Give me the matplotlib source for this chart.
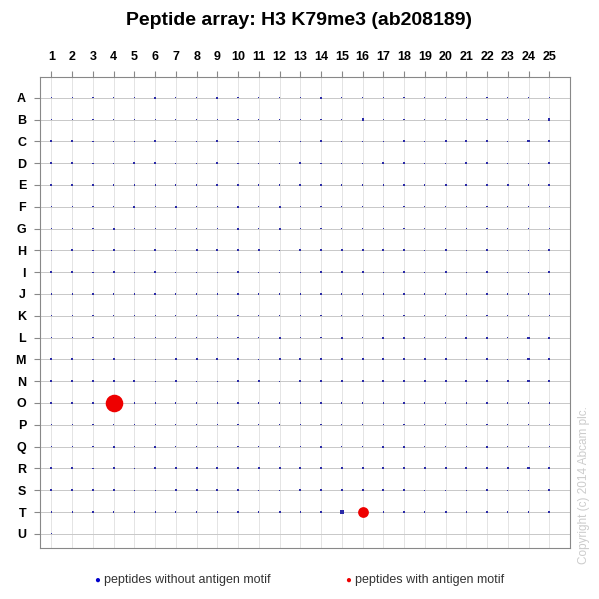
import matplotlib
matplotlib.use("Agg")
import matplotlib.pyplot as plt
import numpy as np

plt.rcParams['font.family'] = ['Liberation Sans', 'DejaVu Sans']

cols = [str(i) for i in range(1, 26)]
rows = list("ABCDEFGHIJKLMNOPQRSTU")
# intensity per spot: 0 none, 1 faint, 2 visible, 3 stronger
intensity = [
    "1111121121111211111111111",
    "1111111111111112111111112",
    "2211121121111211121222122",
    "2211221121112111221122112",
    "2211111121112111111222212",
    "1111212112121111111111111",
    "1112111112121111111111111",
    "1212121222212222221212112",
    "2212121112111222121212112",
    "1121121111111111121112111",
    "1111111111111111111111111",
    "1111111111121121221122122",
    "2212112222122222222212122",
    "2222212112212222222222222",
    "2221111111111111111111111",
    "1111111111111111111111111",
    "1112121111111211221112111",
    "2212122222222222222222222",
    "2222112222112222221112112",
    "1111111111121131111211112",
    "1000000000000000000000000",
]
red_spots = [("O", 4, 160), ("T", 16, 60)]

sizes = {0: 0, 1: 0.8, 2: 2.2, 3: 7}

fig = plt.figure(figsize=(5.99, 5.99), dpi=100)
ax = fig.add_axes([40/599, 51/599, 530/599, 471/599])
xs, ys, ss = [], [], []
for r, line in enumerate(intensity):
    for c, ch in enumerate(line):
        v = int(ch)
        if v:
            xs.append(c + 1); ys.append(r); ss.append(sizes[v])
ax.scatter(xs, ys, s=ss, color="#2a2aa8", marker="s", linewidths=0, zorder=3)
for row, col, s in red_spots:
    ax.scatter([col], [rows.index(row)], s=s, color="#ee0000", zorder=4, linewidths=0)

ax.set_xlim(0.45, 26.0)
ax.set_ylim(20.65, -0.95)
ax.set_xticks(range(1, 26))
ax.set_xticklabels(cols, fontsize=9, fontweight="bold")
ax.set_yticks(range(len(rows)))
ax.set_yticklabels(rows, fontsize=9, fontweight="bold")
ax.xaxis.tick_top()
ax.tick_params(axis="x", length=4, color="#888888", pad=6)
ax.tick_params(axis="y", length=4, color="#888888", pad=6)
ax.grid(True, color="#e4e4e4", linewidth=0.7)
ax.set_axisbelow(True)
for y in range(len(rows)):
    ax.axhline(y, color="#c4c4c4", linewidth=0.6, zorder=1)
for s in ax.spines.values():
    s.set_color("#888888")

fig.text(0.5, 0.965, "Peptide array: H3 K79me3 (ab208189)", ha="center", va="center",
         fontsize=14, fontweight="bold")
fig.text(97/599, 1-580/599, "●", color="#0000cc", fontsize=7, ha="center", va="center")
fig.text(104/599, 1-580/599, "peptides without antigen motif", color="#333333", fontsize=9, va="center")
fig.text(348/599, 1-580/599, "●", color="#ee0000", fontsize=7, ha="center", va="center")
fig.text(355/599, 1-580/599, "peptides with antigen motif", color="#333333", fontsize=9, va="center")
fig.text(584/599, 1-485/599, "Copyright (c) 2014 Abcam plc.", rotation=90, color="#cccccc",
         fontsize=8.5, ha="center", va="center")
fig.savefig("out.png", dpi=100, facecolor="white")
